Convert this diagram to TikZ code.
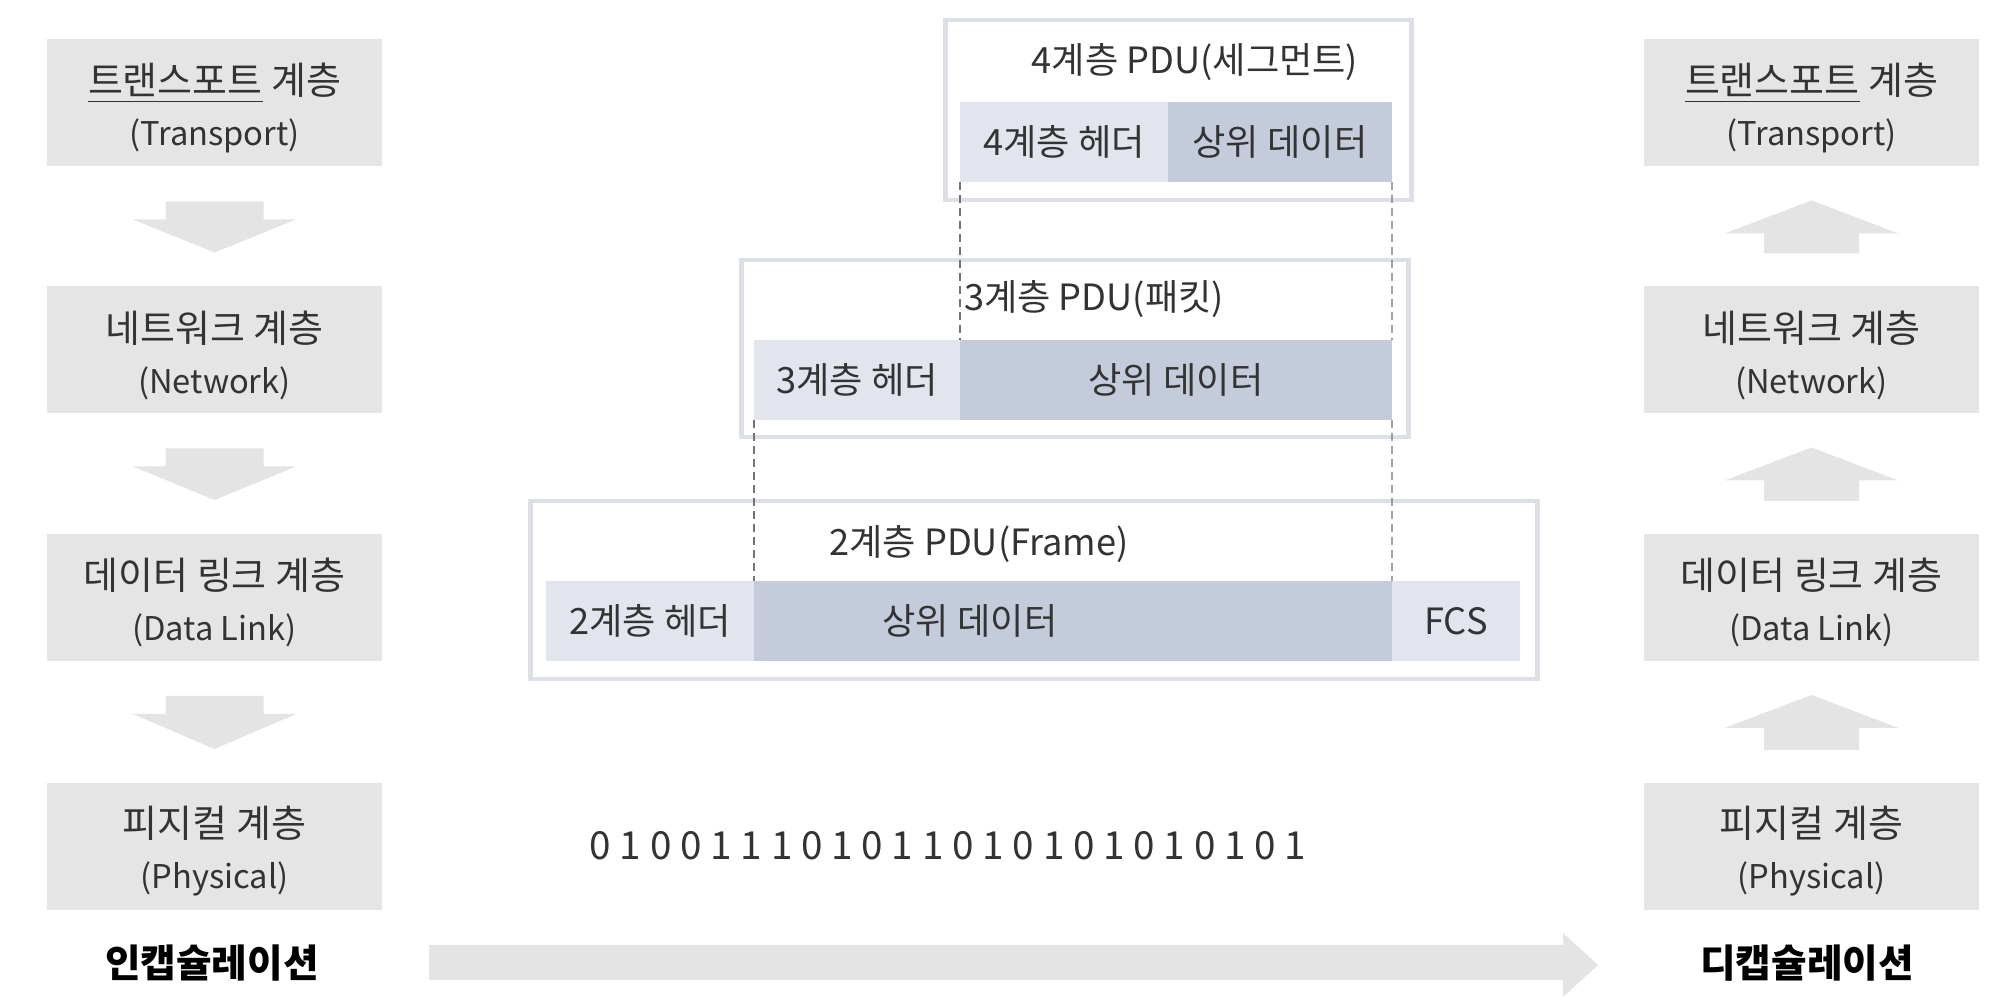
\documentclass[tikz,border=0pt]{standalone}
\usepackage{fontspec}
\setmainfont{Noto Sans CJK KR}
\usetikzlibrary{calc, positioning}
\definecolor{layerbg}{HTML}{E5E5E5}
\definecolor{arrowbg}{HTML}{E4E4E4}
\definecolor{hdrbg}{HTML}{E2E5EE}
\definecolor{databg}{HTML}{C4CBDB}
\definecolor{frameline}{HTML}{DCDFE6}
\definecolor{txt}{HTML}{333333}

\begin{document}
\begin{tikzpicture}[
  x=1mm, y=-1mm,
  font=\fontsize{10.3}{12}\selectfont, text=txt,
  layer/.style={fill=layerbg, minimum width=33.5mm, minimum height=12.7mm,
                inner sep=0pt, outer sep=0pt, align=center,
                font=\fontsize{10.8}{14.5}\selectfont},
  pdu/.style={draw=frameline, line width=0.45mm, fill=white, anchor=north west,
              inner sep=0pt},
  cell/.style={minimum height=8mm, inner sep=0pt, outer sep=0pt, anchor=north west},
  guide/.style={draw=black!55, line width=0.4pt, dash pattern=on 0.8mm off 0.5mm},
  bit/.style={font=\fontsize{11}{13}\selectfont, inner sep=0pt},
  caption/.style={font=\fontsize{11}{13}\selectfont\bfseries, text=black},
]
\fill[white] (0,0) rectangle (200,99.7);
\useasboundingbox (0,0) rectangle (200,99.7);

% Layer columns
\foreach \n/\y/\ko/\en in {
  t/10.3/{\underline{트랜스포트} 계층}/Transport,
  n/35.0/네트워크 계층/Network,
  d/59.75/데이터 링크 계층/Data Link,
  p/84.65/피지컬 계층/Physical%
}{
  \node[layer] (\n-l) at (21.45,\y)
    {\rule{0pt}{11.8pt}\ko\\{\fontsize{9.3}{14.5}\selectfont (\en)}};
  \node[layer] (\n-r) at (181.15,\y)
    {\rule{0pt}{11.8pt}\ko\\{\fontsize{9.3}{14.5}\selectfont (\en)}};
}

% Down arrows (left), up arrows (right)
\foreach \a/\b in {t/n, n/d, d/p}{
  \fill[arrowbg] ($(\a-l.south)+(-4.9,3.5)$) -- ($(\a-l.south)+(4.9,3.5)$)
    -- ($(\a-l.south)+(4.9,5.3)$) -- ($(\a-l.south)+(8.15,5.3)$)
    -- ($(\b-l.north)+(0,-3.4)$) -- ($(\a-l.south)+(-8.15,5.3)$)
    -- ($(\a-l.south)+(-4.9,5.3)$) -- cycle;
  \fill[arrowbg] ($(\b-r.north)+(-4.75,-3.3)$) -- ($(\b-r.north)+(4.75,-3.3)$)
    -- ($(\a-r.south)+(4.75,6.7)$) -- ($(\a-r.south)+(8.7,6.7)$)
    -- ($(\a-r.south)+(0,3.4)$) -- ($(\a-r.south)+(-8.7,6.7)$)
    -- ($(\a-r.south)+(-4.75,6.7)$) -- cycle;
}

% PDU frames
\node[pdu, minimum width=46.6mm, minimum height=18mm] (seg) at (94.3,1.8) {};
\node[pdu, minimum width=66.7mm, minimum height=17.7mm] (pkt) at (73.9,25.8) {};
\node[pdu, minimum width=100.7mm, minimum height=17.8mm] (frm) at (52.8,49.9) {};

\node (seg-t) at (119.5,6.2) {4계층 PDU(세그먼트)};
\node (pkt-t) at (109.4,29.9) {3계층 PDU(패킷)};
\node (frm-t) at (97.9,54.4) {2계층 PDU(Frame)};

% Cells
\node[cell, fill=hdrbg, minimum width=20.8mm] (h4) at (96.0,10.2) {4계층 헤더};
\node[cell, fill=databg, minimum width=22.4mm] (d4) at (116.8,10.2) {상위 데이터};
\node[cell, fill=hdrbg, minimum width=20.6mm] (h3) at (75.4,34.0) {3계층 헤더};
\node[cell, fill=databg, minimum width=43.2mm] (d3) at (96.0,34.0) {상위 데이터};
\node[cell, fill=hdrbg, minimum width=20.8mm] (h2) at (54.6,58.1) {2계층 헤더};
\node[cell, fill=databg, minimum width=63.8mm] (d2) at (75.4,58.1) {};
\node[cell, fill=hdrbg, minimum width=12.8mm] (fcs) at (139.2,58.1) {FCS};
\node (d2-t) at (97.0,62.1) {상위 데이터};

% Guides
\draw[guide] (h4.south west) -- (d3.north west);
\draw[guide] (d4.south east) -- (d3.north east);
\draw[guide] (h3.south west) -- (d2.north west);
\draw[guide] (d3.south east) -- (d2.north east);

% Bit stream
\foreach \b [count=\i from 0] in {0,1,0,0,1,1,1,0,1,0,1,1,0,1,0,1,0,1,0,1,0,1,0,1}
  \node[bit] (bit\i) at ({60.05+3.022*\i},84.6) {\b};

% Captions and flow
\node[caption] (enc) at (21.2,96.3) {인캡슐레이션};
\node[caption] (dec) at (180.7,96.3) {디캡슐레이션};
\coordinate (band-start) at (42.9,96.25);
\coordinate (band-tip) at (159.8,96.5);
\fill[arrowbg] ($(band-start)+(0,-1.75)$) -- ($(band-tip)+(-3.5,-2.0)$)
  -- ($(band-tip)+(-3.5,-3.2)$) -- (band-tip) -- ($(band-tip)+(-3.5,3.2)$)
  -- ($(band-tip)+(-3.5,1.5)$) -- ($(band-start)+(0,1.75)$) -- cycle;
\end{tikzpicture}
\end{document}
